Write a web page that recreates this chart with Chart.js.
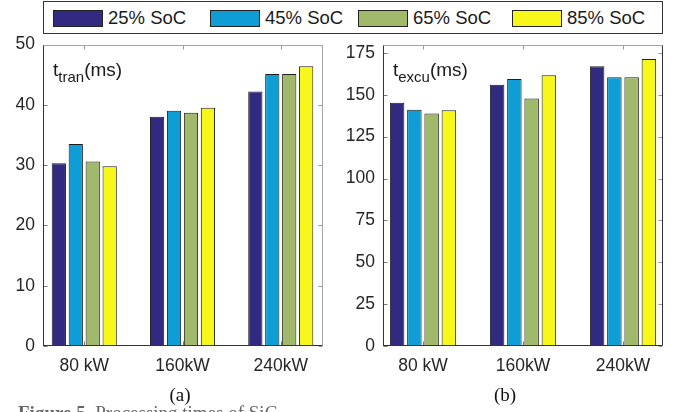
<!DOCTYPE html>
<html>
<head>
<meta charset="utf-8">
<script src="https://cdn.jsdelivr.net/npm/chart.js@4/dist/chart.umd.min.js"></script>
<style>
  html, body { margin: 0; padding: 0; background: #fff; }
  #page { position: relative; width: 681px; height: 412px; overflow: hidden; font-family: "Liberation Sans", Arial, sans-serif; }
  canvas { position: absolute; top: 26px; }
  #leyenda { position: absolute; left: 43px; top: 1px; width: 618px; height: 31px; border: 1px solid #333; background: #fff; z-index: 2; }
  .item { position: absolute; top: 7px; height: 18px; display: flex; align-items: center; font-size: 18.5px; color: #1a1a1a; white-space: nowrap; }
  .muestra { width: 48px; height: 15px; border: 1px solid #222; margin-right: 5px; }
  .sublabel { position: absolute; top: 384px; font-family: "Liberation Serif", "Times New Roman", serif; font-size: 19px; line-height: 22px; color: #111; transform: translateX(-50%); }
  #pie { position: absolute; left: 18px; top: 403px; font-family: "Liberation Serif", "Times New Roman", serif; font-size: 19px; line-height: 19px; color: #666; white-space: nowrap; }
</style>
</head>
<body>
<div id="page">
  <div id="leyenda"></div>
  <canvas id="graficoTran" width="340" height="364" style="left:0px"></canvas>
  <canvas id="graficoExcu" width="341" height="364" style="left:340px"></canvas>
  <div class="sublabel" style="left:180px">(a)</div>
  <div class="sublabel" style="left:505px">(b)</div>
  <div id="pie"><b>Figure 5.</b> Processing times of SiC</div>
</div>
<script>
// categorias y series
const categorias = ['80 kW', '160kW', '240kW'];
const posiciones = [1, 2, 3];
const etiquetasSoC = ['25% SoC', '45% SoC', '65% SoC', '85% SoC'];
const coloresSoC = ['#312a80', '#0e9dd5', '#a0b96b', '#f7f71a'];

// t_tran (ms)
const tran25 = [30.3, 38.0, 42.2];
const tran45 = [33.5, 39.0, 45.1];
const tran65 = [30.6, 38.7, 45.1];
const tran85 = [29.8, 39.5, 46.4];

// t_excu (ms)
const excu25 = [145.2, 155.9, 167.0];
const excu45 = [141.0, 159.4, 160.4];
const excu65 = [138.8, 147.8, 160.4];
const excu85 = [140.8, 161.7, 171.3];

// leyenda compartida
const leyenda = document.getElementById('leyenda');
const posLeyenda = [9, 166, 314, 468];
etiquetasSoC.forEach((txt, i) => {
  const item = document.createElement('div');
  item.className = 'item';
  item.style.left = posLeyenda[i] + 'px';
  item.innerHTML = `<div class="muestra" style="background:${coloresSoC[i]}"></div>${txt}`;
  leyenda.appendChild(item);
});

// marco tipo MATLAB con ticks hacia dentro y etiqueta t_xxx(ms)
const marcoPlugin = {
  id: 'marco',
  afterDraw(chart, args, opts) {
    const { ctx, chartArea: a, scales: { x, y } } = chart;
    const L = Math.round(a.left) + 0.5, R = Math.round(a.right) - 0.5;
    const T = Math.round(a.top) + 0.5, B = Math.round(a.bottom) - 0.5;
    const linea = (x1, y1, x2, y2, c) => {
      ctx.strokeStyle = c;
      ctx.beginPath(); ctx.moveTo(x1, y1); ctx.lineTo(x2, y2); ctx.stroke();
    };
    ctx.save();
    ctx.lineWidth = 1;
    y.ticks.forEach(t => {
      const py = Math.round(y.getPixelForValue(t.value)) + 0.5;
      linea(L, py, L + 4, py, '#777');
      linea(R - 4, py, R, py, '#999');
    });
    x.ticks.forEach(t => {
      const px = Math.round(x.getPixelForValue(t.value)) + 0.5;
      linea(px, B, px, B - 4, '#777');
      linea(px, T, px, T + 4, '#999');
    });
    linea(L, T, R, T, '#a5a5a5');
    linea(R, T, R, B, opts.colorDerecho);
    linea(L, T, L, B + 0.5, '#333');
    linea(L, B, R, B, '#333');

    // etiqueta
    ctx.fillStyle = '#1a1a1a';
    ctx.textBaseline = 'alphabetic';
    let px = a.left + 10;
    const base = a.top + 31;
    ctx.font = '19px "Liberation Sans", Arial';
    ctx.fillText('t', px, base);
    px += ctx.measureText('t').width;
    ctx.font = '15px "Liberation Sans", Arial';
    ctx.fillText(opts.sub, px, base + 6);
    px += ctx.measureText(opts.sub).width;
    ctx.font = '19px "Liberation Sans", Arial';
    ctx.fillText('(ms)', px, base);
    ctx.restore();
  }
};

const crearGrafico = (id, series, xmin, xmax, ymax, paso, sub, colorDerecho, padDer) => {
  new Chart(document.getElementById(id), {
    type: 'bar',
    data: {
      datasets: series.map((valores, i) => ({
        label: etiquetasSoC[i],
        data: valores.map((v, j) => ({ x: posiciones[j], y: v })),
        backgroundColor: coloresSoC[i],
        borderColor: '#1e1e1e',
        borderWidth: 1,
        categoryPercentage: 0.69,
        barPercentage: 0.84
      }))
    },
    options: {
      responsive: false,
      animation: false,
      devicePixelRatio: 1,
      layout: { padding: { top: 11, right: padDer, left: 0, bottom: 0 } },
      plugins: {
        legend: { display: false },
        tooltip: { enabled: false },
        marco: { sub, colorDerecho }
      },
      scales: {
        x: {
          type: 'linear',
          offset: false,
          min: xmin, max: xmax,
          grid: { display: false, drawTicks: false },
          border: { display: false },
          afterBuildTicks: s => { s.ticks = posiciones.map(v => ({ value: v })); },
          afterFit: s => { s.height = 44; },
          ticks: {
            padding: 10,
            color: '#262626',
            font: { size: 17.5, family: '"Liberation Sans", Arial' },
            callback: v => categorias[posiciones.indexOf(v)]
          }
        },
        y: {
          min: 0, max: ymax,
          grid: { display: false, drawTicks: false },
          border: { display: false },
          afterFit: s => { s.width = 43; },
          ticks: {
            stepSize: paso,
            includeBounds: false,
            padding: 8,
            color: '#262626',
            font: { size: 17.5, family: '"Liberation Sans", Arial' }
          }
        }
      }
    },
    plugins: [marcoPlugin]
  });
};

crearGrafico('graficoTran', [tran25, tran45, tran65, tran85], 0.58, 3.43, 50, 10, 'tran', '#a5a5a5', 17);
crearGrafico('graficoExcu', [excu25, excu45, excu65, excu85], 0.6, 3.4, 180, 25, 'excu', '#333', 18);
</script>
</body>
</html>
